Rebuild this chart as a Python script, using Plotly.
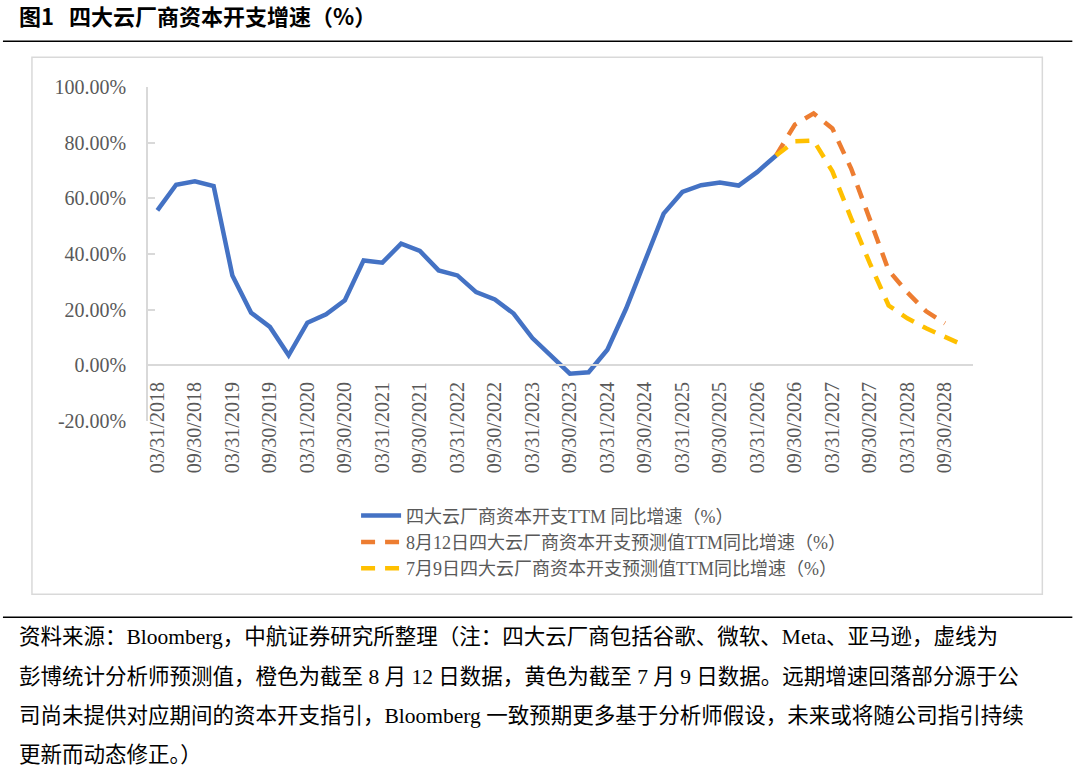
import plotly.graph_objects as go

# quarter-end categories, 2018Q1 .. 2028Q4
quarters = [
    "03/31/2018", "06/30/2018", "09/30/2018", "12/31/2018",
    "03/31/2019", "06/30/2019", "09/30/2019", "12/31/2019",
    "03/31/2020", "06/30/2020", "09/30/2020", "12/31/2020",
    "03/31/2021", "06/30/2021", "09/30/2021", "12/31/2021",
    "03/31/2022", "06/30/2022", "09/30/2022", "12/31/2022",
    "03/31/2023", "06/30/2023", "09/30/2023", "12/31/2023",
    "03/31/2024", "06/30/2024", "09/30/2024", "12/31/2024",
    "03/31/2025", "06/30/2025", "09/30/2025", "12/31/2025",
    "03/31/2026", "06/30/2026", "09/30/2026", "12/31/2026",
    "03/31/2027", "06/30/2027", "09/30/2027", "12/31/2027",
    "03/31/2028", "06/30/2028", "09/30/2028", "12/31/2028",
]
tick_dates = quarters[::2]

# TTM capex growth, %
actual = [
    55.7, 64.9, 66.1, 64.4, 32.3, 18.9, 13.8, 3.6,
    15.3, 18.3, 23.4, 37.7, 36.9, 43.7, 41.1, 34.1,
    32.3, 26.3, 23.7, 18.6, 9.8, 3.4, -3.0, -2.5,
    5.6, 20.4, 37.7, 54.5, 62.3, 64.7, 65.7, 64.6,
    69.5, 75.4, None, None, None, None, None, None,
    None, None, None, None,
]
fc_aug12 = [None] * 33 + [75.4, 86.5, 90.5, 85.1, 70.7, 52.4, 34.1, 26.2, 19.4, 15.1, None]
fc_jul9 = [None] * 33 + [75.4, 80.5, 80.8, 69.7, 52.8, 36.6, 21.5, 16.9, 13.3, 10.4, 7.2]

y_ticks = [-20, 0, 20, 40, 60, 80, 100]
y_labels = ["-20.00%", "0.00%", "20.00%", "40.00%", "60.00%", "80.00%", "100.00%"]

names = [
    "四大云厂商资本开支TTM 同比增速（%）",
    "8月12日四大云厂商资本开支预测值TTM同比增速（%）",
    "7月9日四大云厂商资本开支预测值TTM同比增速（%）",
]

title = "<b>图1&nbsp;&nbsp;&nbsp;四大云厂商资本开支增速（%）</b>"
source_lines = [
    "资料来源：Bloomberg，中航证券研究所整理（注：四大云厂商包括谷歌、微软、Meta、亚马逊，虚线为",
    "彭博统计分析师预测值，橙色为截至 8 月 12 日数据，黄色为截至 7 月 9 日数据。远期增速回落部分源于公",
    "司尚未提供对应期间的资本开支指引，Bloomberg 一致预期更多基于分析师假设，未来或将随公司指引持续",
    "更新而动态修正。）",
]

W, H = 1080, 780
L, R, T, B = 148, 972.7, 86.7, 420.7   # plot area in pixels


def px_x(x):
    return (x - L) / (R - L)


def px_y(y):
    return (B - y) / (B - T)


FONT = "Liberation Serif, Noto Sans CJK SC, serif"
GREY = "#595959"

fig = go.Figure()
fig.add_trace(go.Scatter(
    x=quarters, y=actual, name=names[0], mode="lines",
    line=dict(color="#4472C4", width=4.5),
))
fig.add_trace(go.Scatter(
    x=quarters, y=fc_aug12, name=names[1], mode="lines",
    line=dict(color="#ED7D31", width=4.5, dash="14px,10px"),
))
fig.add_trace(go.Scatter(
    x=quarters, y=fc_jul9, name=names[2], mode="lines",
    line=dict(color="#FFC000", width=4.5, dash="14px,10px"),
))

fig.update_layout(
    width=W, height=H,
    margin=dict(l=L, r=W - R, t=T, b=H - B),
    paper_bgcolor="white", plot_bgcolor="white",
    font=dict(family=FONT, color=GREY),
    legend=dict(
        x=px_x(356), y=px_y(497), xanchor="left", yanchor="top",
        font=dict(size=18, color=GREY, family=FONT),
        bgcolor="rgba(0,0,0,0)", itemwidth=40, tracegroupgap=2,
    ),
)

fig.update_xaxes(
    type="category", categoryorder="array", categoryarray=quarters,
    range=[-0.5, len(quarters) - 0.5],
    tickmode="array", tickvals=tick_dates, ticktext=tick_dates,
    tickangle=-90, tickfont=dict(size=20, color=GREY, family=FONT),
    ticks="", ticklabelstandoff=8,
    showline=True, linecolor="#D9D9D9", linewidth=1.5,
    showgrid=False, zeroline=False,
    anchor="free", position=20 / 120,
)
fig.update_yaxes(
    range=[-20, 100], tickmode="array", tickvals=y_ticks, ticktext=y_labels,
    tickfont=dict(size=20, color=GREY, family=FONT),
    ticks="inside", ticklen=7, tickcolor="#D9D9D9", tickwidth=1.5,
    ticklabelstandoff=16,
    showline=True, linecolor="#D9D9D9", linewidth=1.5,
    showgrid=False, zeroline=False,
)

# frame around chart, rules above and below
fig.add_shape(type="rect", xref="paper", yref="paper",
              x0=px_x(32), x1=px_x(1042), y0=px_y(594), y1=px_y(57),
              line=dict(color="#D9D9D9", width=1.5), layer="below")
for yy in (41, 617):
    fig.add_shape(type="line", xref="paper", yref="paper",
                  x0=px_x(3), x1=px_x(1072), y0=px_y(yy), y1=px_y(yy),
                  line=dict(color="black", width=1.5))

fig.add_annotation(text=title, xref="paper", yref="paper",
                   x=px_x(17), y=px_y(15), xanchor="left", yanchor="middle",
                   showarrow=False,
                   font=dict(size=22, color="black", family="Noto Sans CJK SC"))
for i, line in enumerate(source_lines):
    fig.add_annotation(text=line, xref="paper", yref="paper",
                       x=px_x(17), y=px_y(637 + 39.3 * i),
                       xanchor="left", yanchor="middle", showarrow=False,
                       font=dict(size=21.5, color="black", family=FONT))

fig.write_html("out.html", config={"displayModeBar": False},
               post_script="document.body.style.margin='0';")
